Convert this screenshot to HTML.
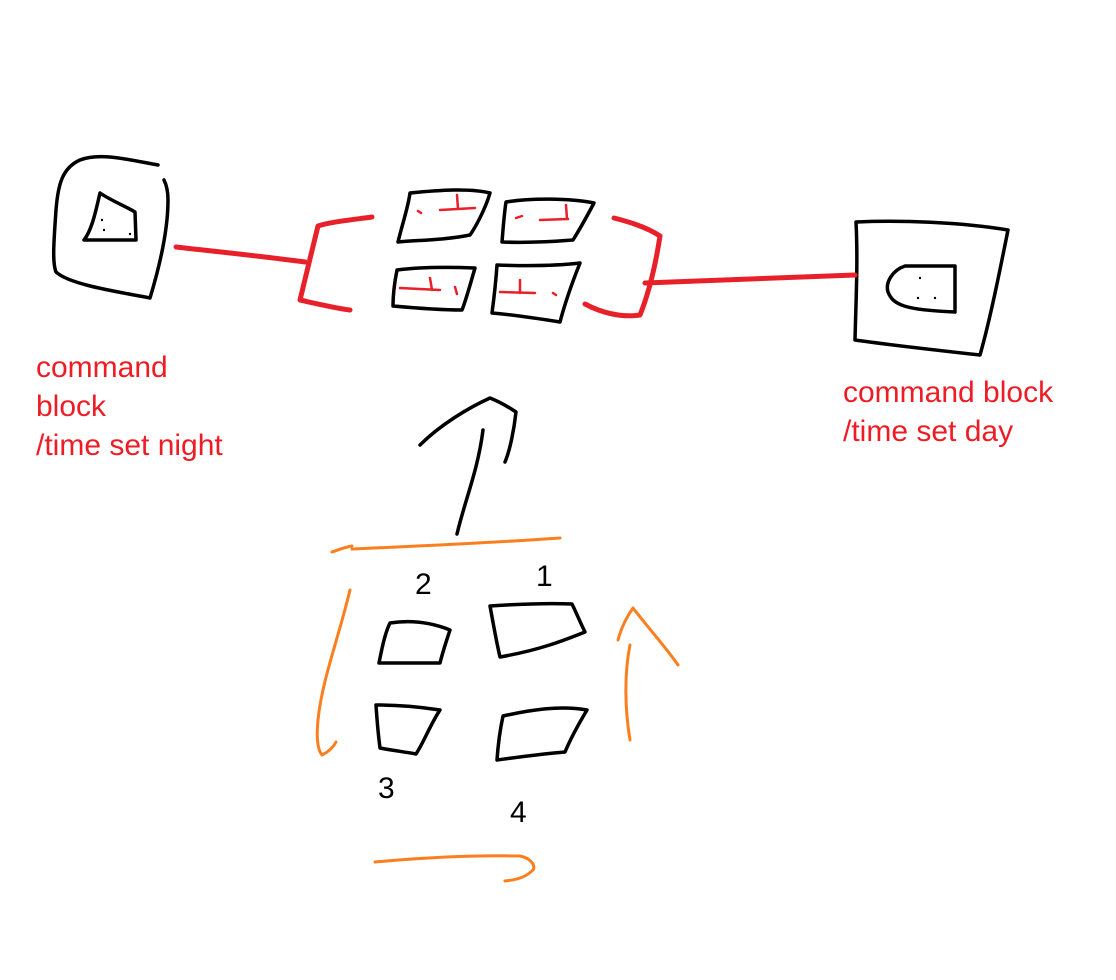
<!DOCTYPE html>
<html>
<head>
<meta charset="utf-8">
<style>
html,body{margin:0;padding:0;background:#fff;}
svg{display:block;}
.k{fill:none;stroke:#000;stroke-width:3.5;stroke-linecap:round;stroke-linejoin:round;}
.r{fill:none;stroke:#e8202a;stroke-width:5;stroke-linecap:round;stroke-linejoin:round;}
.rt{fill:none;stroke:#e8202a;stroke-width:2.5;stroke-linecap:round;}
.o{fill:none;stroke:#fb7f1f;stroke-width:3;stroke-linecap:round;stroke-linejoin:round;}
.lbl{font-family:"Liberation Sans",sans-serif;font-size:30px;fill:#ee1c24;}
.num{font-family:"Liberation Sans",sans-serif;font-size:30px;fill:#000;}
</style>
</head>
<body>
<svg width="1116" height="980" viewBox="0 0 1116 980" xmlns="http://www.w3.org/2000/svg">
<path class="k" d="M158,165 C130,160 100,152 80,160 C62,168 58,185 56,210 C54,240 52,262 56,272 C70,285 120,292 150,298 C160,265 168,230 168,200 C168,190 166,184 164,180"/>
<path class="k" d="M100,193 C96,210 92,230 84,240 L136,240 L135,212 C125,206 110,200 100,193 Z"/>
<circle cx="102" cy="220" r="1.2"/><circle cx="130" cy="234" r="1.2"/><circle cx="104" cy="230" r="1.2"/>
<path class="k" d="M856,222 C900,220 960,222 1008,230 C1000,270 990,320 980,355 C935,350 890,345 855,340 C856,300 858,260 856,222 Z"/>
<path class="k" d="M905,266 C893,270 885,282 888,292 C893,305 905,310 955,312 L955,266 Z"/>
<circle cx="920" cy="278" r="1.2"/><circle cx="935" cy="298" r="1.2"/><circle cx="918" cy="298" r="1.2"/>
<path class="r" d="M176,247 C220,252 260,256 305,262"/>
<path class="r" d="M372,217 C350,220 330,222 318,226 C312,250 305,280 300,300 C318,304 335,308 350,310"/>
<path class="r" d="M614,218 C630,222 648,228 660,236 C656,262 650,290 640,315 C620,318 600,312 585,304"/>
<path class="r" d="M645,283 C720,280 790,278 855,275"/>
<path class="k" d="M410,193 C440,190 470,188 490,193 C485,210 475,228 470,235 C445,240 420,240 398,242 C402,225 408,208 410,193 Z"/>
<path class="k" d="M506,202 C530,198 570,198 594,203 C585,220 578,232 573,240 C548,242 528,243 502,242 C503,230 504,215 506,202 Z"/>
<path class="k" d="M397,270 C420,267 450,267 475,268 C470,285 466,300 462,310 C440,310 415,308 393,306 C393,293 395,280 397,270 Z"/>
<path class="k" d="M497,265 C525,266 555,266 580,263 C572,283 565,303 560,322 C535,318 515,315 492,313 C494,298 496,280 497,265 Z"/>
<path class="rt" d="M440,210 L475,208 M457,195 L458,209 M418,211 L421,213"/>
<path class="rt" d="M540,220 L568,219 M566,205 L567,219 M516,218 L522,216"/>
<path class="rt" d="M400,288 L440,290 M430,278 L432,290 M455,287 L457,294"/>
<path class="rt" d="M500,292 L535,293 M520,280 L520,293 M553,293 L556,295"/>
<text class="lbl" x="36" y="377">command</text>
<text class="lbl" x="36" y="416">block</text>
<text class="lbl" x="36" y="455">/time set night</text>
<text class="lbl" x="843" y="402">command block</text>
<text class="lbl" x="843" y="441">/time set day</text>
<path class="k" d="M457,534 C465,500 478,470 483,430"/>
<path class="k" d="M420,445 C440,425 468,408 490,398 C500,402 510,408 516,412 C514,430 510,450 505,462"/>
<path class="o" d="M332,552 C338,550 345,547 352,546 M352,549 C420,546 490,543 560,538"/>
<path class="o" d="M350,590 C338,640 322,680 318,720 C316,740 318,750 322,755 C328,752 333,748 336,742"/>
<path class="o" d="M630,740 C625,710 624,675 630,645 M618,640 C622,625 628,615 633,608 C650,630 668,650 678,665"/>
<path class="o" d="M375,862 C420,858 470,855 520,856 C530,858 536,865 533,870 C525,878 515,880 505,881"/>
<path class="k" d="M390,623 C410,620 430,622 450,630 C445,645 442,655 440,663 C420,663 398,663 379,663 C382,648 385,633 390,623 Z"/>
<path class="k" d="M490,606 C520,604 550,603 572,604 C576,612 580,622 585,632 C565,640 540,650 500,657 C496,640 493,622 490,606 Z"/>
<path class="k" d="M376,705 C395,705 420,707 440,710 C430,725 424,742 416,754 C405,752 390,750 380,748 C378,733 377,720 376,705 Z"/>
<path class="k" d="M503,716 C530,710 560,705 587,710 C578,725 570,740 565,752 C540,754 520,757 497,760 C498,745 500,730 503,716 Z"/>
<text class="num" x="415" y="594">2</text>
<text class="num" x="536" y="586">1</text>
<text class="num" x="378" y="798">3</text>
<text class="num" x="510" y="822">4</text>
</svg>
</body>
</html>
